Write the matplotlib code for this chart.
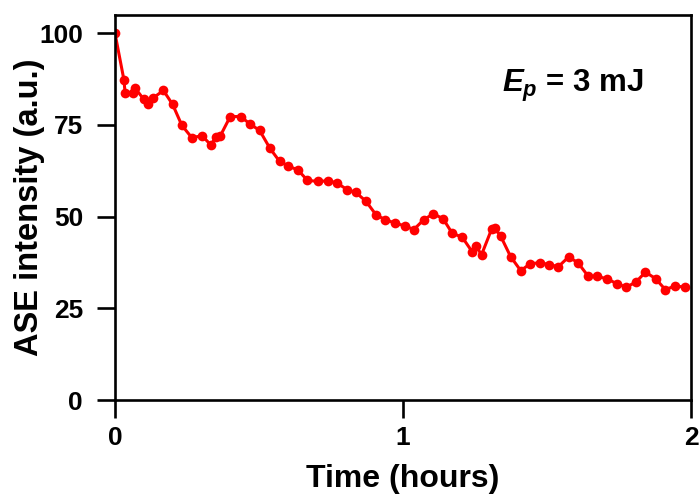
import matplotlib
matplotlib.use("Agg")
import matplotlib.pyplot as plt

plt.rcParams['font.family'] = ['Liberation Sans', 'DejaVu Sans']
plt.rcParams['font.weight'] = 'bold'
plt.rcParams['mathtext.fontset'] = 'custom'
plt.rcParams['mathtext.it'] = 'Liberation Sans:bold:italic'
plt.rcParams['mathtext.rm'] = 'Liberation Sans:bold'

# time in hours, ASE intensity in a.u.
time_h = [0.0, 0.031, 0.035, 0.064, 0.070, 0.099, 0.116, 0.133, 0.168, 0.200,
          0.232, 0.267, 0.302, 0.333, 0.350, 0.366, 0.400, 0.436, 0.468, 0.502,
          0.538, 0.571, 0.602, 0.635, 0.668, 0.705, 0.740, 0.770, 0.805, 0.836,
          0.871, 0.906, 0.937, 0.970, 1.005, 1.037, 1.072, 1.105, 1.139, 1.170,
          1.205, 1.239, 1.254, 1.272, 1.307, 1.318, 1.339, 1.373, 1.408, 1.440,
          1.475, 1.506, 1.539, 1.574, 1.606, 1.641, 1.672, 1.707, 1.742, 1.775,
          1.808, 1.841, 1.876, 1.910, 1.943, 1.978]
intensity = [100.0, 87.3, 83.8, 83.8, 85.0, 82.1, 80.6, 82.4, 84.4, 80.6,
             74.9, 71.5, 72.1, 69.5, 71.8, 72.1, 77.3, 77.3, 75.3, 73.5,
             68.6, 65.1, 63.8, 62.7, 59.9, 59.6, 59.8, 59.2, 57.4, 56.6,
             54.2, 50.5, 49.2, 48.3, 47.5, 46.5, 49.2, 50.8, 49.4, 45.5,
             44.4, 40.5, 41.9, 39.6, 46.6, 46.9, 44.6, 39.1, 35.3, 37.1,
             37.5, 36.9, 36.4, 39.0, 37.5, 33.9, 33.7, 33.1, 31.7, 30.8,
             32.2, 34.9, 33.1, 30.1, 31.1, 30.8]

fig = plt.figure(figsize=(6.99, 4.97), dpi=100)
ax = fig.add_axes([0.1645, 0.195, 0.8245, 0.775])

ax.plot(time_h, intensity, color='#ff0000', linewidth=2.2, marker='o',
        markersize=7, markeredgewidth=0)

ax.set_xlim(0, 2)
ax.set_ylim(0, 105)
ax.set_xticks([0, 1, 2])
ax.set_yticks([0, 25, 50, 75, 100])

for s in ax.spines.values():
    s.set_linewidth(1.9)
ax.tick_params(direction='out', length=13, width=1.9, labelsize=19)
ax.tick_params(axis='x', pad=6)
ax.tick_params(axis='y', pad=10)

ax.set_xlabel('Time (hours)', fontsize=23, fontweight='bold', labelpad=10)
ax.set_ylabel('ASE intensity (a.u.)', fontsize=23.5, fontweight='bold', labelpad=-4)

ax.text(0.672, 0.80, r'$E_p$ = 3 mJ', transform=ax.transAxes, fontsize=22.5,
        fontweight='bold')

fig.savefig('out.png', dpi=100)
